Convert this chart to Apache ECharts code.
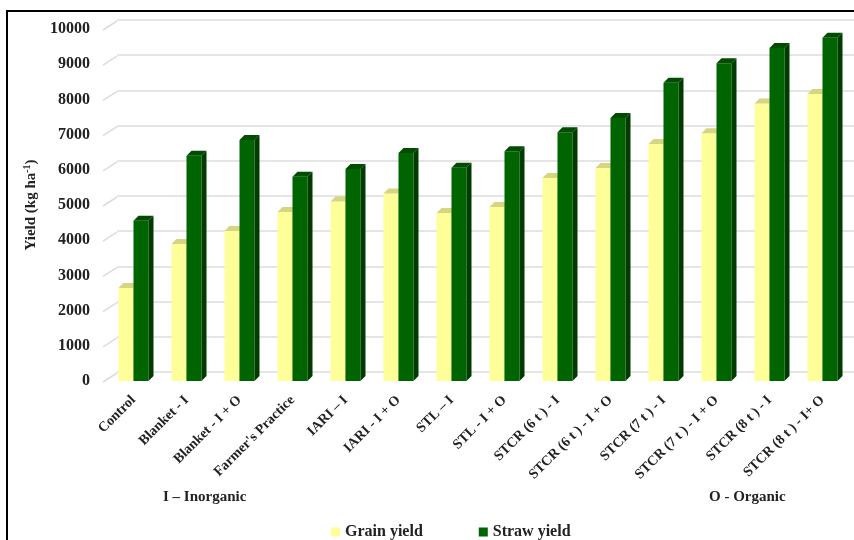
<!DOCTYPE html>
<html>
<head>
<meta charset="utf-8">
<script src="https://cdn.jsdelivr.net/npm/echarts@6/dist/echarts.min.js"></script>
<style>
html,body{margin:0;padding:0;background:#fff;}
#chart{width:854px;height:540px;}
</style>
</head>
<body>
<div id="chart"></div>
<script>
var categories = ['Control', 'Blanket - I', 'Blanket - I + O', "Farmer's Practice", 'IARI – I',
    'IARI - I + O', 'STL – I', 'STL - I + O', 'STCR (6 t ) - I', 'STCR (6 t ) - I + O',
    'STCR (7 t ) - I', 'STCR (7 t ) - I + O', 'STCR (8 t ) - I', 'STCR (8 t ) - I+ O'];
var grainYield = [2640, 3890, 4260, 4800, 5100, 5330, 4770, 4940, 5770, 6050, 6730, 7040, 7880, 8150];
var strawYield = [4550, 6400, 6850, 5800, 6020, 6480, 6060, 6530, 7070, 7470, 8470, 9030, 9460, 9750];
var yTicks = [0, 1000, 2000, 3000, 4000, 5000, 6000, 7000, 8000, 9000, 10000];

var FONT = '"Liberation Serif", "Times New Roman", serif';
var DEPTH = 5;      // 3d side / top offset, px

// bar drawn as front face + right side + top cap
function bar3d(side, cFront, cSide, cTop) {
    return function (params, api) {
        var ci = api.value(0), v = api.value(1);
        var base = api.coord([ci, 0]);
        var top = api.coord([ci, v]);
        var bw = api.size([1, 0])[0] * 15 / 53;
        var x0 = side < 0 ? base[0] - bw : base[0];
        var x1 = x0 + bw;
        var yt = top[1], yb = base[1];
        return {
            type: 'group',
            children: [
                {type: 'rect', shape: {x: x0, y: yt, width: bw, height: yb - yt}, style: {fill: cFront}},
                {type: 'polygon', shape: {points: [[x1, yt], [x1 + DEPTH, yt - DEPTH], [x1 + DEPTH, yb - DEPTH], [x1, yb]]}, style: {fill: cSide}},
                {type: 'polygon', shape: {points: [[x0, yt], [x0 + DEPTH, yt - DEPTH], [x1 + DEPTH, yt - DEPTH], [x1, yt]]}, style: {fill: cTop}}
            ]
        };
    };
}

var myChart = echarts.init(document.getElementById('chart'));

option = {
    backgroundColor: '#fff',
    animation: false,
    grid: [
        {left: 107, top: 29, width: 742, height: 352},   // front plane
        {left: 117, top: 20, width: 740, height: 352}    // back wall
    ],
    legend: {
        left: 326, top: 519,
        itemWidth: 9, itemHeight: 9, itemGap: 56,
        icon: 'rect',
        data: ['Grain yield', 'Straw yield'],
        textStyle: {fontFamily: FONT, fontWeight: 'bold', fontSize: 16, color: '#222'}
    },
    xAxis: [
        {
            type: 'category', gridIndex: 0, data: categories,
            axisLine: {show: false}, axisTick: {show: false},
            axisLabel: {
                interval: 0, rotate: 45, margin: 17,
                fontFamily: FONT, fontWeight: 'bold', fontSize: 14, color: '#222'
            }
        },
        {type: 'category', gridIndex: 1, data: categories, show: false}
    ],
    yAxis: [
        {
            type: 'value', gridIndex: 0, min: 0, max: 10000, interval: 1000,
            name: 'Yield (kg ha{sup|-1})',
            nameLocation: 'middle', nameGap: 67, nameRotate: 90,
            nameTextStyle: {
                fontFamily: FONT, fontWeight: 'bold', fontSize: 15, color: '#222',
                rich: {sup: {fontFamily: FONT, fontWeight: 'bold', fontSize: 10, color: '#222', verticalAlign: 'top', padding: [0, 0, 8, 0]}}
            },
            axisLine: {show: false}, axisTick: {show: false}, splitLine: {show: false},
            axisLabel: {
                margin: 17, fontFamily: FONT, fontWeight: 'bold', fontSize: 16, color: '#222',
                formatter: function (v) { return String(v); }
            }
        },
        {
            type: 'value', gridIndex: 1, min: 0, max: 10000, interval: 1000,
            axisLine: {show: false}, axisTick: {show: false}, axisLabel: {show: false},
            splitLine: {lineStyle: {color: '#dcdcdc', width: 1.5}}
        }
    ],
    series: [
        {
            name: 'gridlinks', type: 'custom', xAxisIndex: 0, yAxisIndex: 0, silent: true,
            data: yTicks.map(function (v) { return [0, v]; }),
            renderItem: function (params, api) {
                var y = api.coord([0, api.value(1)])[1];
                var left = params.coordSys.x;
                return {
                    type: 'line',
                    shape: {x1: left - 4, y1: y + 1, x2: left + 10, y2: y - 8},
                    style: {stroke: '#dcdcdc', lineWidth: 1.5}
                };
            }
        },
        {
            name: 'Grain yield', type: 'custom', xAxisIndex: 0, yAxisIndex: 0,
            itemStyle: {color: '#ffff99'},
            encode: {x: 0, y: 1},
            data: grainYield.map(function (v, i) { return [i, v]; }),
            renderItem: bar3d(-1, '#ffff99', '#cccc7a', '#d6d680')
        },
        {
            name: 'Straw yield', type: 'custom', xAxisIndex: 0, yAxisIndex: 0,
            itemStyle: {color: '#006400'},
            encode: {x: 0, y: 1},
            data: strawYield.map(function (v, i) { return [i, v]; }),
            renderItem: bar3d(1, '#006400', '#003c00', '#004d00')
        }
    ],
    graphic: [
        {type: 'rect', shape: {x: 7, y: 11, width: 880, height: 560}, style: {fill: 'none', stroke: '#000', lineWidth: 2}, silent: true},
        {type: 'text', left: 163, top: 490, style: {text: 'I – Inorganic', font: 'bold 15px ' + FONT, fill: '#222'}},
        {type: 'text', left: 709, top: 490, style: {text: 'O - Organic', font: 'bold 15px ' + FONT, fill: '#222'}}
    ]
};

myChart.setOption(option);
</script>
</body>
</html>
